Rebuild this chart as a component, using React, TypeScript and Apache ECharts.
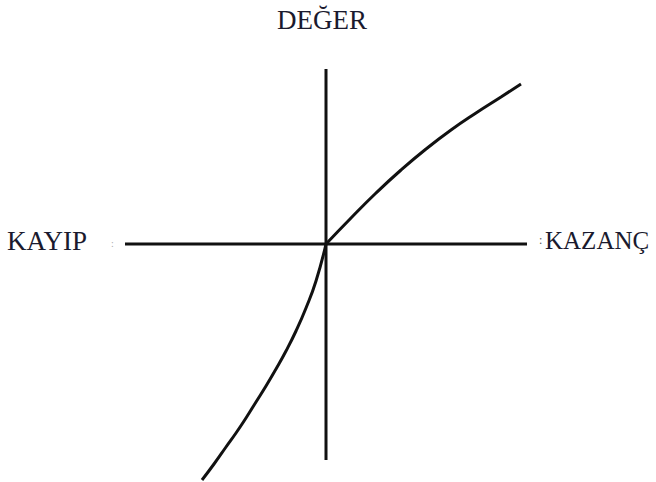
import React, { useEffect, useRef } from "react";
import * as echarts from "echarts";

// Axis labels
const yAxisLabel = "DEĞER";
const lossLabel = "KAYIP";
const gainLabel = "KAZANÇ";

// Value function: losses (x<0) and gains (x>0)
const lossX = [-124, -112, -100, -90, -80, -70, -60, -50, -40, -30, -20, -10, 0];
const lossY = [-236, -220, -203, -189, -174, -158, -142, -125, -107, -87, -64, -37, 0];
const gainX = [0, 25, 50, 75, 100, 125, 150, 175, 195];
const gainY = [0, 26, 51, 74, 95, 114, 131, 147, 160];

// Axis extents
const hAxisX = [-201, 201];
const vAxisY = [-216, 175];

export default function App() {
  const ref = useRef<HTMLDivElement>(null);
  useEffect(() => {
    if (!ref.current) return;
    const chart = echarts.init(ref.current, null, { renderer: "svg" });
    const lossCurve = lossX.map((x, i) => [x, lossY[i]]);
    const gainCurve = gainX.map((x, i) => [x, gainY[i]]);
    const fam = "Liberation Serif";
    const ts = {
      fontFamily: fam,
      fontSize: 27,
      fontWeight: "normal",
      color: "#1a1a2e",
    };
    chart.setOption({
      animation: false,
      backgroundColor: "#ffffff",
      textStyle: { fontFamily: fam },
      title: [
        { text: yAxisLabel, left: 277, top: 6, padding: 0, textStyle: ts },
        { text: lossLabel, left: 7, top: 227, padding: 0, textStyle: ts },
        {
          text: gainLabel,
          left: 545,
          top: 228,
          padding: 0,
          textStyle: { ...ts, fontSize: 25 },
        },
        {
          text: ":",
          left: 111,
          top: 238,
          padding: 0,
          textStyle: { fontFamily: fam, fontSize: 10, fontWeight: "normal", color: "#aaa" },
        },
        {
          text: ":",
          left: 539,
          top: 234,
          padding: 0,
          textStyle: { fontFamily: fam, fontSize: 12, fontWeight: "normal", color: "#555" },
        },
      ],
      grid: { left: 125, right: 129, top: 60, bottom: 0 },
      xAxis: { type: "value", min: -201, max: 201, show: false },
      yAxis: { type: "value", min: -238, max: 184, show: false },
      series: [
        {
          type: "line",
          data: [[hAxisX[0], 0], [hAxisX[1], 0]],
          symbol: "none",
          clip: false,
          lineStyle: { color: "#111", width: 3 },
        },
        {
          type: "line",
          data: [[0, vAxisY[1]], [0, vAxisY[0]]],
          symbol: "none",
          clip: false,
          lineStyle: { color: "#111", width: 3 },
        },
        {
          type: "line",
          data: lossCurve,
          symbol: "none",
          smooth: 0.5,
          clip: false,
          lineStyle: { color: "#111", width: 3 },
        },
        {
          type: "line",
          data: gainCurve,
          symbol: "none",
          smooth: 0.5,
          clip: false,
          lineStyle: { color: "#111", width: 3 },
        },
      ],
    });
    return () => chart.dispose();
  }, []);
  return (
    <div
      ref={ref}
      style={{ position: "fixed", left: 0, top: 0, width: 656, height: 482 }}
    />
  );
}
